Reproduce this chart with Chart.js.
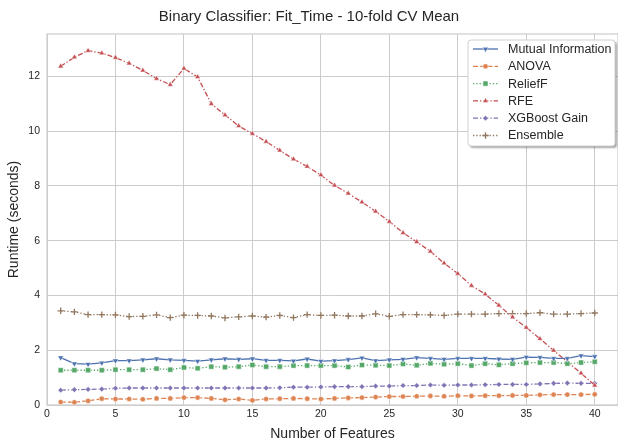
<!DOCTYPE html>
<html lang="en">
  <head>
    <meta charset="UTF-8" />
    <script src="https://cdn.jsdelivr.net/npm/chart.js"></script>
    <style>
      body {
        margin: 0;
        background: #fff;
        overflow: hidden;
      }
      #wrap {
        width: 618px;
        height: 443px;
      }
    </style>
  </head>
  <body>
    <div id="wrap"><canvas id="fitTimeChart"></canvas></div>
    <script>
      // number of selected features (x axis)
      const numFeatures = [
        1, 2, 3, 4, 5, 6, 7, 8, 9, 10, 11, 12, 13, 14, 15, 16, 17, 18, 19, 20,
        21, 22, 23, 24, 25, 26, 27, 28, 29, 30, 31, 32, 33, 34, 35, 36, 37, 38, 39, 40,
      ];
      const xTickValues = [0, 5, 10, 15, 20, 25, 30, 35, 40];
      const yTickValues = [0, 2, 4, 6, 8, 10, 12];

      // mean fit time in seconds
      const mutualInfo = [
        1.73, 1.51, 1.49, 1.54, 1.62, 1.62, 1.65, 1.69, 1.65, 1.63, 1.6, 1.65, 1.69, 1.67, 1.69, 1.63, 1.63, 1.61, 1.68, 1.6,
        1.62, 1.66, 1.72, 1.62, 1.65, 1.67, 1.73, 1.7, 1.67, 1.7, 1.7, 1.7, 1.68, 1.67, 1.75, 1.74, 1.7, 1.7, 1.8, 1.77,
      ];
      const anova = [
        0.11, 0.1, 0.15, 0.23, 0.22, 0.22, 0.21, 0.24, 0.24, 0.27, 0.27, 0.24, 0.19, 0.22, 0.17, 0.22, 0.23, 0.24, 0.23, 0.22,
        0.24, 0.26, 0.27, 0.29, 0.31, 0.31, 0.32, 0.33, 0.32, 0.34, 0.33, 0.34, 0.34, 0.35, 0.35, 0.37, 0.38, 0.38, 0.38, 0.39,
      ];
      const reliefF = [
        1.27, 1.27, 1.27, 1.27, 1.29, 1.29, 1.29, 1.33, 1.29, 1.37, 1.34, 1.4, 1.38, 1.4, 1.46, 1.4, 1.4, 1.44, 1.44, 1.44,
        1.44, 1.39, 1.46, 1.45, 1.44, 1.5, 1.45, 1.52, 1.49, 1.51, 1.44, 1.51, 1.47, 1.51, 1.54, 1.55, 1.55, 1.51, 1.55, 1.58,
      ];
      const rfe = [
        12.37, 12.7, 12.94, 12.85, 12.69, 12.48, 12.22, 11.92, 11.7, 12.29, 11.98, 11.0, 10.59, 10.19, 9.91, 9.62, 9.3, 8.98, 8.71, 8.4,
        8.02, 7.73, 7.41, 7.07, 6.7, 6.29, 5.96, 5.61, 5.18, 4.8, 4.36, 4.05, 3.64, 3.21, 2.83, 2.42, 1.99, 1.58, 1.16, 0.72,
      ];
      const xgbGain = [
        0.54, 0.56, 0.57, 0.58, 0.61, 0.62, 0.62, 0.62, 0.62, 0.62, 0.62, 0.62, 0.62, 0.62, 0.62, 0.62, 0.63, 0.65, 0.65, 0.66,
        0.67, 0.67, 0.67, 0.69, 0.69, 0.71, 0.71, 0.73, 0.72, 0.73, 0.73, 0.74, 0.75, 0.75, 0.75, 0.77, 0.79, 0.8, 0.79, 0.79,
      ];
      const ensemble = [
        3.44, 3.4, 3.3, 3.3, 3.29, 3.23, 3.24, 3.29, 3.19, 3.28, 3.27, 3.25, 3.18, 3.22, 3.25, 3.21, 3.27, 3.19, 3.3, 3.27,
        3.28, 3.25, 3.25, 3.33, 3.24, 3.3, 3.3, 3.29, 3.27, 3.32, 3.32, 3.32, 3.34, 3.34, 3.34, 3.37, 3.32, 3.32, 3.34, 3.36,
      ];

      const FONT = "'Liberation Sans', Arial, sans-serif";
      const GRID = "#cccccc";
      const TEXT = "#262626";

      function series(label, values, color, dash, style, radius, rotation) {
        return {
          label: label,
          data: numFeatures.map((x, i) => ({ x: x, y: values[i] })),
          borderColor: color,
          backgroundColor: color,
          borderWidth: 1.3,
          borderDash: dash,
          pointStyle: style,
          pointRadius: radius,
          pointRotation: rotation || 0,
          pointBackgroundColor: color,
          pointBorderColor: style === "cross" ? color : "rgba(255,255,255,0.85)",
          pointBorderWidth: style === "cross" ? 1.3 : 0.6,
          tension: 0,
        };
      }

      const datasets = [
        series("Mutual Information", mutualInfo, "#4c72b0", [], "triangle", 3.4, 180),
        series("ANOVA", anova, "#dd8452", [5, 2.2], "circle", 2.6),
        series("ReliefF", reliefF, "#55a868", [1.3, 2], "rect", 3.6),
        series("RFE", rfe, "#c44e52", [5, 2, 1.3, 2], "triangle", 3.2),
        series("XGBoost Gain", xgbGain, "#8172b3", [5, 2, 1.3, 2], "rectRot", 2.8),
        series("Ensemble", ensemble, "#937860", [1.3, 2], "cross", 3.2),
      ];

      // frame around plot area (all four spines)
      const framePlugin = {
        id: "frame",
        beforeDatasetsDraw(chart) {
          const a = chart.chartArea;
          const ctx = chart.ctx;
          ctx.save();
          ctx.strokeStyle = GRID;
          ctx.lineWidth = 1.2;
          ctx.strokeRect(a.left, a.top, a.right - a.left, a.bottom - a.top);
          ctx.restore();
        },
      };

      // legend box in the upper right corner, like matplotlib's
      const legendBoxPlugin = {
        id: "legendBox",
        afterDraw(chart) {
          const ctx = chart.ctx;
          const x0 = 468, y0 = 40, w = 147, h = 106;
          ctx.save();
          ctx.shadowColor = "rgba(0,0,0,0.35)";
          ctx.shadowOffsetX = 2;
          ctx.shadowOffsetY = 2;
          ctx.shadowBlur = 2;
          ctx.fillStyle = "#ffffff";
          ctx.beginPath();
          ctx.roundRect(x0, y0, w, h, 3);
          ctx.fill();
          ctx.shadowColor = "transparent";
          ctx.strokeStyle = "#d0d0d0";
          ctx.lineWidth = 1;
          ctx.stroke();
          chart.data.datasets.forEach((ds, i) => {
            const y = y0 + 9 + i * 17.3;
            ctx.strokeStyle = ds.borderColor;
            ctx.lineWidth = ds.borderWidth;
            ctx.setLineDash(ds.borderDash);
            ctx.beginPath();
            ctx.moveTo(473, y);
            ctx.lineTo(498, y);
            ctx.stroke();
            ctx.setLineDash([]);
            ctx.fillStyle = ds.pointBackgroundColor;
            ctx.strokeStyle = ds.pointBorderColor;
            ctx.lineWidth = ds.pointBorderWidth;
            Chart.helpers.drawPoint(
              ctx,
              { pointStyle: ds.pointStyle, rotation: ds.pointRotation, radius: ds.pointRadius, borderWidth: ds.pointBorderWidth },
              485.5,
              y
            );
            ctx.fillStyle = TEXT;
            ctx.font = "12.5px " + FONT;
            ctx.textBaseline = "middle";
            ctx.textAlign = "left";
            ctx.fillText(ds.label, 508, y + 0.5);
          });
          ctx.restore();
        },
      };

      const ctx = document.getElementById("fitTimeChart").getContext("2d");
      const fitTimeChart = new Chart(ctx, {
        type: "line",
        data: { datasets: datasets },
        plugins: [framePlugin, legendBoxPlugin],
        options: {
          responsive: true,
          maintainAspectRatio: false,
          animation: false,
          events: [],
          layout: { autoPadding: false, padding: { left: 0, right: 0, top: 0, bottom: 0 } },
          plugins: {
            legend: { display: false },
            tooltip: { enabled: false },
            title: {
              display: true,
              text: "Binary Classifier: Fit_Time - 10-fold CV Mean",
              color: TEXT,
              font: { family: FONT, size: 15, weight: "normal" },
              padding: { top: 8, bottom: 8 },
            },
          },
          scales: {
            x: {
              type: "linear",
              min: 0,
              max: 41.7,
              afterBuildTicks: (axis) => {
                axis.ticks = xTickValues.map((v) => ({ value: v }));
              },
              afterFit: (scale) => {
                scale.height = 38;
                scale.paddingLeft = 0;
                scale.paddingRight = 0;
              },
              ticks: {
                color: TEXT,
                padding: 3,
                maxRotation: 0,
                autoSkip: false,
                font: { family: FONT, size: 10.5 },
              },
              grid: { color: GRID, lineWidth: 1, drawTicks: false },
              border: { display: false },
              title: {
                display: true,
                text: "Number of Features",
                color: TEXT,
                font: { family: FONT, size: 14 },
                padding: { top: 4, bottom: 0 },
              },
            },
            y: {
              min: 0,
              max: 13.55,
              afterBuildTicks: (axis) => {
                axis.ticks = yTickValues.map((v) => ({ value: v }));
              },
              afterFit: (scale) => {
                scale.width = 47;
              },
              ticks: {
                color: TEXT,
                padding: 7,
                autoSkip: false,
                font: { family: FONT, size: 10.5 },
              },
              grid: { color: GRID, lineWidth: 1, drawTicks: false },
              border: { display: false },
              title: {
                display: true,
                text: "Runtime (seconds)",
                color: TEXT,
                font: { family: FONT, size: 14 },
                padding: { top: 6, bottom: 0 },
              },
            },
          },
        },
      });
    </script>
  </body>
</html>
